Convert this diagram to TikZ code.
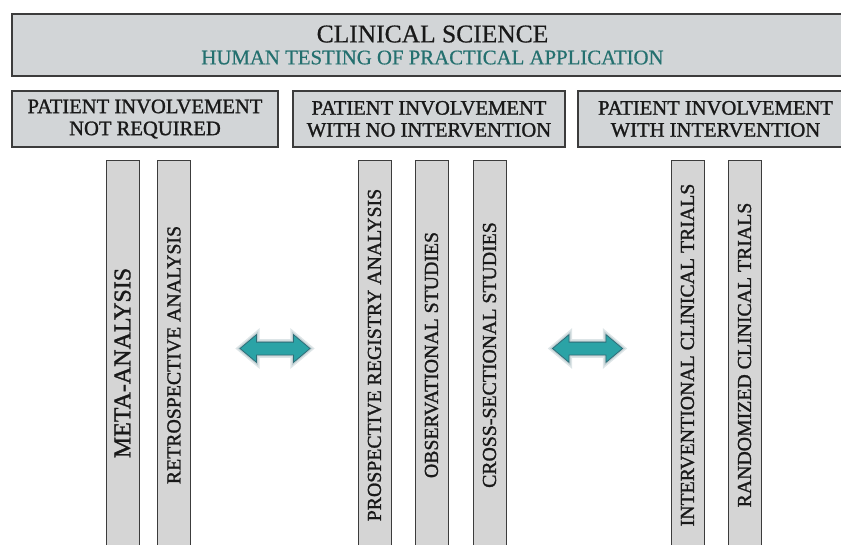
\documentclass[tikz,border=0pt]{standalone}
\usepackage{fontspec}
\setmainfont{Liberation Serif}
\newfontfamily\heavyserif[FakeBold=0.6]{Liberation Serif}
\newfontfamily\boldserif[FakeBold=1.3]{Liberation Serif}
\usepackage{xcolor}
\usetikzlibrary{shapes.arrows,positioning}

\definecolor{boxgray}{HTML}{D2D5D7}
\definecolor{bargray}{HTML}{D5D5D5}
\definecolor{edgegray}{HTML}{3C3C3C}
\definecolor{subteal}{HTML}{24706F}
\definecolor{arrowteal}{HTML}{2BA3A6}
\definecolor{arrowedge}{HTML}{2E6E78}
\definecolor{arrowglow}{HTML}{9FB5BA}

\begin{document}
\begin{tikzpicture}[x=1pt, y=-1pt]
	\tikzstyle{every node} = [inner sep = 0pt, text = black!90]
	\tikzstyle{banner} = [rectangle, draw = edgegray, line width = 1.2pt, fill = boxgray, minimum width = 841pt, minimum height = 62pt, align = center, font = \heavyserif\fontsize{20.8}{22}\selectfont]
	\tikzstyle{group} = [rectangle, draw = edgegray, line width = 1.1pt, fill = boxgray, minimum width = 266pt, minimum height = 56pt, align = center, font = \boldserif\fontsize{20.6}{22}\selectfont]
	\tikzstyle{bar} = [rectangle, draw = edgegray, line width = 0.9pt, fill = bargray, rotate = 90, minimum width = 390pt, minimum height = 33pt, font = \boldserif\fontsize{19.8}{20}\selectfont]
	\tikzstyle{link} = [double arrow, fill = arrowteal, draw = arrowedge, line width = 0.8pt, minimum height = 70pt, inner sep = 6pt, double arrow head extend = 7.5pt, double arrow tip angle = 80, preaction = {draw = arrowglow, line width = 6pt, opacity = 0.35}, preaction = {draw = arrowglow, line width = 3pt, opacity = 0.5}]
	\useasboundingbox (0, 0) rectangle (841, 544);
	\clip (0, 0) rectangle (841, 544);
\node[banner] (science) at (432.5, 45) {{\fontsize{25.5}{22}\selectfont CLINICAL SCIENCE}\\{\color{subteal}HUMAN TESTING OF PRACTICAL APPLICATION}};
\node[group] (none) at (145, 119) {PATIENT INVOLVEMENT\\NOT REQUIRED};
\node[group, minimum width = 272pt] (nointer) at (429, 119) {PATIENT INVOLVEMENT\\WITH NO INTERVENTION};
\node[group, minimum width = 275pt] (inter) at (715.5, 119) {PATIENT INVOLVEMENT\\WITH INTERVENTION};
\node[bar, minimum width = 406pt, font = \boldserif\fontsize{24}{20}\selectfont] (meta) at (122.5, 363) {META-ANALYSIS};
\node[bar] (retro) at (174, 355) {RETROSPECTIVE ANALYSIS};
\node[bar] (prosp) at (374.5, 355) {PROSPECTIVE REGISTRY ANALYSIS};
\node[bar] (obs) at (431.5, 355) {OBSERVATIONAL STUDIES};
\node[bar] (cross) at (489.5, 355) {CROSS-SECTIONAL STUDIES};
\node[bar] (interv) at (687.5, 355) {INTERVENTIONAL CLINICAL TRIALS};
\node[bar] (rand) at (744.5, 355) {RANDOMIZED CLINICAL TRIALS};
\node[link] (left) at (275, 348.5) {};
\node[link] (right) at (587.5, 348.5) {};
	\end{tikzpicture}
\end{document}
